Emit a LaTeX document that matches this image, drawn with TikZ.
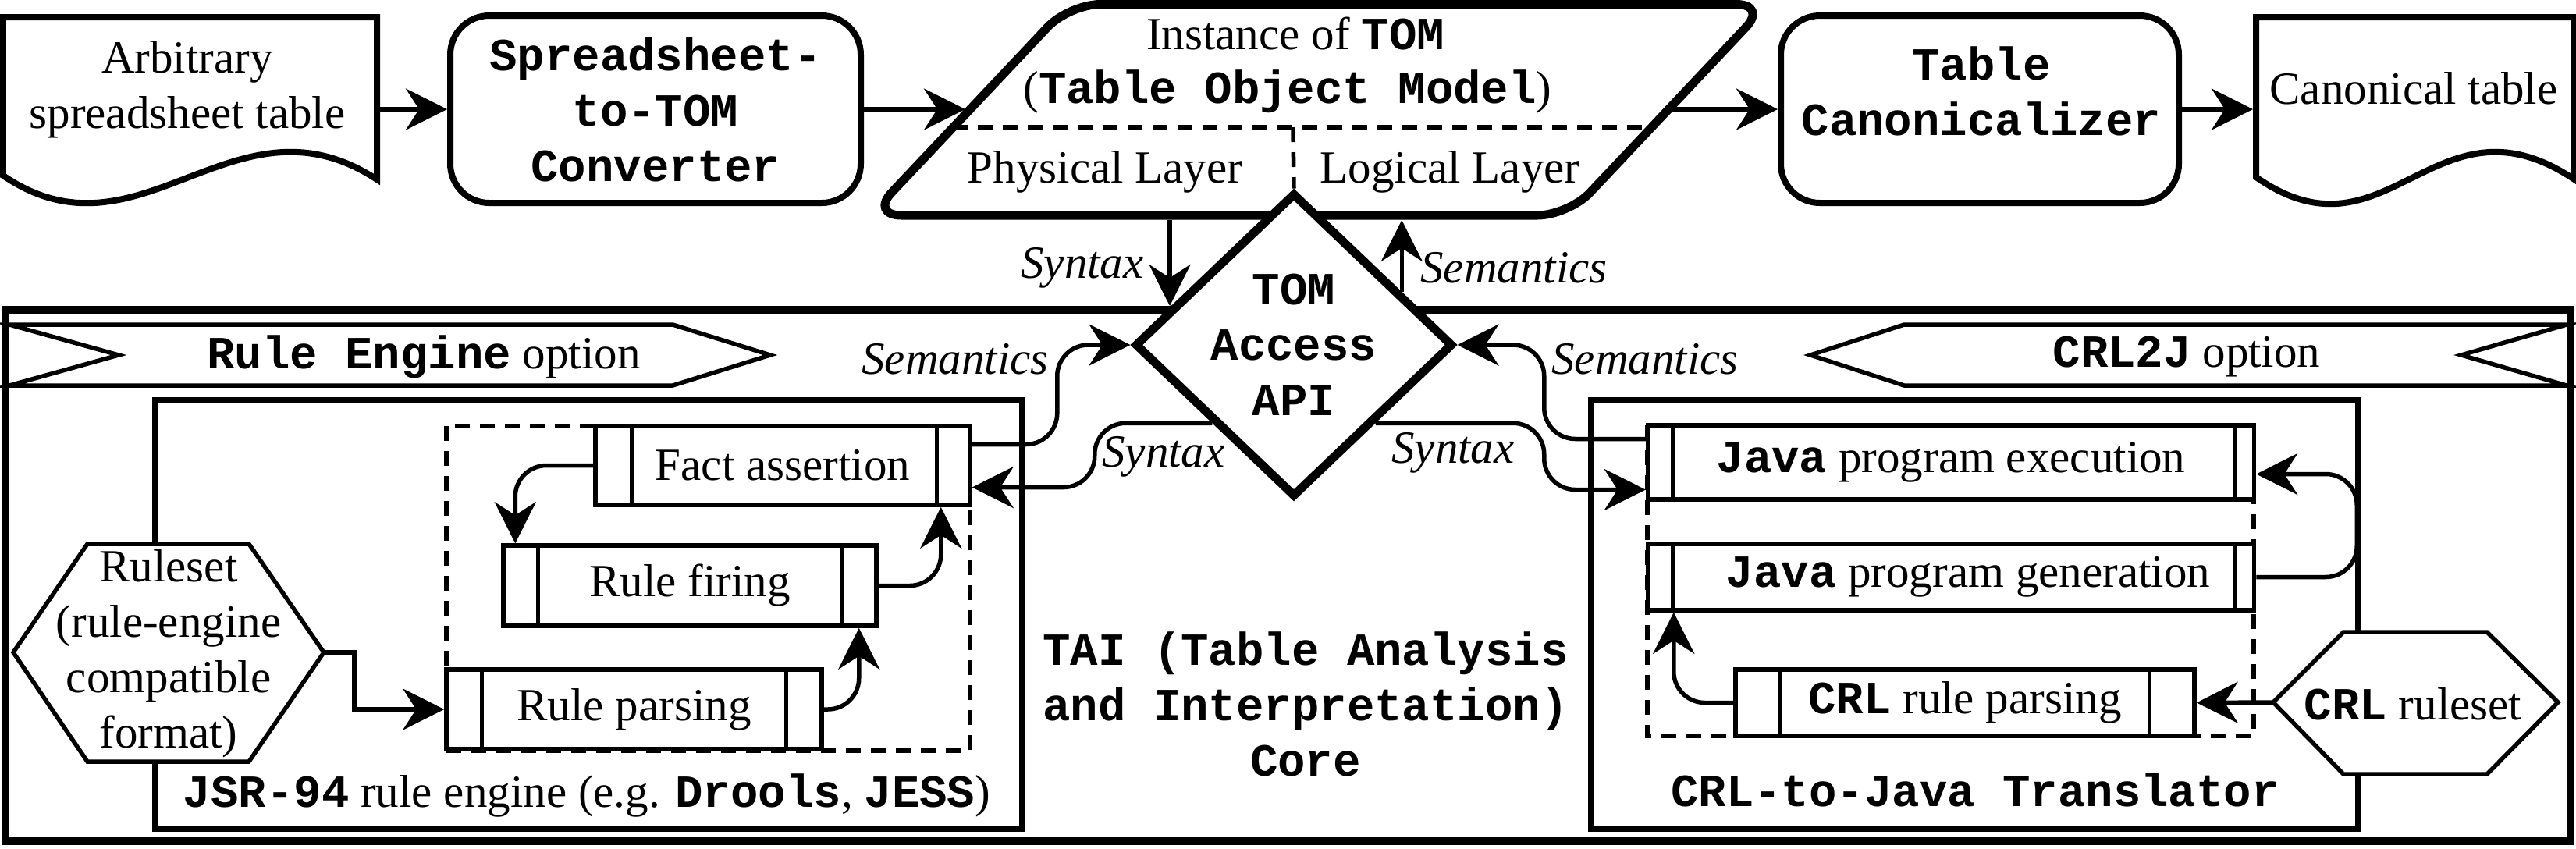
\documentclass[tikz,border=0pt]{standalone}
\usepackage{fontspec}
\setmainfont{Liberation Serif}
\setmonofont{Liberation Mono}
\usetikzlibrary{arrows.meta,shapes.geometric,calc}
\newcommand{\kw}[1]{\textbf{\texttt{#1}}}
\begin{document}
\begin{tikzpicture}[
  >={Stealth[length=0.53cm,width=0.53cm,inset=0.17cm]},
  font=\fontsize{16.8}{20.2}\selectfont,
  every node/.style={inner sep=0pt, align=center},
  arr/.style={->, line width=0.055cm, rounded corners=0.4cm},
  stepbox/.style={draw, line width=0.08cm, rounded corners=0.5cm, fill=white, minimum height=2.40cm},
  procbox/.style={draw, line width=0.055cm, fill=white},
  groupbox/.style={draw, line width=0.07cm, minimum height=5.50cm},
  thinline/.style={line width=0.055cm, fill=white},
  dashline/.style={line width=0.055cm, dash pattern=on 0.19cm off 0.13cm}]
\useasboundingbox (0,0) rectangle (33.01,-10.87);

% top row
\draw[line width=0.08cm] (0.04,-0.22) -- (4.83,-0.22) -- (4.83,-2.30) .. controls (3.00,-1.10) and (1.80,-3.45) .. (0.04,-2.25) -- cycle;
\node (arb) at (2.40,-1.15) {Arbitrary\\spreadsheet table};
\coordinate (arbR) at (4.83,-1.40);

\node[stepbox, minimum width=5.26cm] (conv) at (8.40,-1.40) {\kw{Spreadsheet-}\\\kw{to-TOM}\\\kw{Converter}};

\draw[line width=0.11cm, rounded corners=0.4cm] (11.15,-2.76) -- (13.70,-0.055) -- (22.65,-0.055) -- (20.10,-2.76) -- cycle;
\coordinate (tomL) at (12.37,-1.40);
\coordinate (tomR) at (21.38,-1.40);
\coordinate (tomS) at (16.57,-2.82);
\node (tominst) at (16.60,-0.43) {Instance of \kw{TOM}};
\node (tomfull) at (16.50,-1.17) {(\kw{Table Object Model})};
\node (phys) at (14.16,-2.20) {Physical Layer};
\node (logi) at (18.58,-2.20) {Logical Layer};

\node[stepbox, minimum width=5.10cm] (canon) at (25.37,-1.40) {};
\node (canontxt) at (25.39,-1.17) {\kw{Table}\\\kw{Canonicalizer}};

\draw[line width=0.08cm] (28.91,-0.22) -- (32.99,-0.22) -- (32.99,-2.30) .. controls (31.20,-1.10) and (30.60,-3.45) .. (28.91,-2.27) -- cycle;
\node (ctab) at (30.93,-1.13) {Canonical table};
\coordinate (ctabL) at (28.87,-1.40);

\draw[arr] (arbR) -- (conv.west);
\draw[arr] (conv.east) -- (tomL);
\draw[arr] (tomR) -- (canon.west);
\draw[arr] (canon.east) -- (ctabL);

% TAI core
\node[draw, line width=0.10cm, minimum width=32.87cm, minimum height=6.81cm] (core) at (16.505,-7.375) {};
\node (tai) at (16.73,-9.02) {\kw{TAI (Table Analysis}\\\kw{and Interpretation)}\\\kw{Core}};

\draw[thinline] (0.12,-4.16) -- (8.62,-4.16) -- (9.87,-4.55) -- (8.62,-4.94) -- (0.12,-4.94) -- (1.52,-4.55) -- cycle;
\node (reopt) at (5.43,-4.57) {\kw{Rule Engine} option};
\draw[thinline] (24.40,-4.16) -- (32.89,-4.16) -- (31.54,-4.55) -- (32.89,-4.94) -- (24.40,-4.94) -- (23.20,-4.55) -- cycle;
\node (c2jopt) at (28.02,-4.57) {\kw{CRL2J} option};

\node[diamond, draw, fill=white, line width=0.11cm, minimum width=4.08cm, minimum height=3.90cm] (api) at (16.58,-4.42) {};
\node (apitxt) at (api) {\kw{TOM}\\\kw{Access}\\\kw{API}};
\draw[dashline] (12.21,-1.63) -- (21.16,-1.63);
\draw[dashline] (16.57,-1.63) -- (api.north);

\coordinate (syndn) at (14.99,-2.82);
\coordinate (semup) at ($(api.north)!0.66!(api.east)$);
\draw[arr] (syndn) -- (syndn |- core.north);
\draw[arr] (semup) -- (semup |- tomS);
\node (syn0) at (13.87,-3.43) {\textit{Syntax}};
\node (sem0) at (19.40,-3.43) {\textit{Semantics}};

% rule engine option
\node[groupbox, minimum width=11.11cm] (jsr) at (7.535,-7.87) {};
\node (jsrlbl) at (7.52,-10.19) {\kw{JSR-94} rule engine (e.g. \kw{Drools}, \kw{JESS})};
\draw[dashline] (5.72,-5.46) rectangle (12.43,-9.62);
\node[procbox, minimum width=4.80cm, minimum height=1.01cm] (fact) at (10.03,-5.965) {Fact assertion};
\node[procbox, minimum width=4.78cm, minimum height=1.03cm] (fire) at (8.84,-7.505) {Rule firing};
\node[procbox, minimum width=4.81cm, minimum height=1.02cm] (rparse) at (8.125,-9.09) {Rule parsing};
\draw[thinline] (0.17,-8.36) -- (1.12,-6.97) -- (3.19,-6.97) -- (4.15,-8.36) -- (3.19,-9.76) -- (1.12,-9.76) -- cycle;
\node (rset) at (2.16,-8.38) {Ruleset\\(rule-engine\\compatible\\format)};
\coordinate (rsetE) at (4.15,-8.36);

% CRL2J option
\node[groupbox, minimum width=9.83cm] (c2j) at (25.295,-7.87) {};
\node (c2jlbl) at (25.31,-10.12) {\kw{CRL-to-Java Translator}};
\draw[dashline] (21.11,-5.45) rectangle (28.88,-9.43);
\node[procbox, minimum width=7.77cm, minimum height=0.95cm] (jexec) at (25.00,-5.925) {\kw{Java} program execution};
\node[procbox, minimum width=7.77cm, minimum height=0.85cm] (jgen) at (25.00,-7.395) {\hspace*{0.44cm}\kw{Java} program generation};
\node[procbox, minimum width=5.88cm, minimum height=0.85cm] (cparse) at (25.18,-9.005) {\kw{CRL} rule parsing};
\draw[thinline] (29.13,-9.00) -- (30.03,-8.10) -- (31.87,-8.10) -- (32.78,-9.00) -- (31.87,-9.92) -- (30.03,-9.92) -- cycle;
\node (crlset) at (30.92,-9.02) {\kw{CRL} ruleset};
\coordinate (crlW) at (29.13,-9.00);

\foreach \n/\a/\b in {fact/0.49/0.45, fire/0.47/0.47, rparse/0.48/0.48, jexec/0.35/0.28, jgen/0.35/0.28, cparse/0.59/0.60}
  \draw[line width=0.05cm] ([xshift=\a cm]\n.north west) -- ([xshift=\a cm]\n.south west)
    ([xshift=-\b cm]\n.north east) -- ([xshift=-\b cm]\n.south east);

% connectors
\draw[arr, rounded corners=0pt] (rsetE) -- (4.54,-8.36) |- (rparse.west);
\draw[arr] (rparse.east) -| ([xshift=-0.25cm]fire.south east);
\draw[arr] (fire.east) -| ([xshift=-0.40cm]fact.south east);
\draw[arr] (fact.west) -| ([xshift=0.18cm]fire.north west);
\draw[arr] ([yshift=0.27cm]fact.east) -- ++(1.09,0) |- (api.west);
\draw[arr] ($(api.west)!0.5!(api.south)$) -| ([xshift=1.57cm,yshift=-0.28cm]fact.east) -- ([yshift=-0.28cm]fact.east);
\draw[arr] ([yshift=0.30cm]jexec.west) -- ++(-1.30,0) |- (api.east);
\draw[arr] ($(api.east)!0.5!(api.south)$) -| ([xshift=-1.30cm,yshift=-0.35cm]jexec.west) -- ([yshift=-0.35cm]jexec.west);
\draw[arr] (crlW) -- (cparse.east);
\draw[arr] (cparse.west) -| ([xshift=0.36cm]jgen.south west);
\draw[arr] (jgen.east) -- ++(1.29,0) |- ([yshift=-0.15cm]jexec.east);

\node (sem1) at (12.24,-4.60) {\textit{Semantics}};
\node (syn1) at (14.91,-5.85) {\textit{Syntax}};
\node (sem2) at (21.08,-4.60) {\textit{Semantics}};
\node (syn2) at (18.62,-5.80) {\textit{Syntax}};
\end{tikzpicture}
\end{document}
